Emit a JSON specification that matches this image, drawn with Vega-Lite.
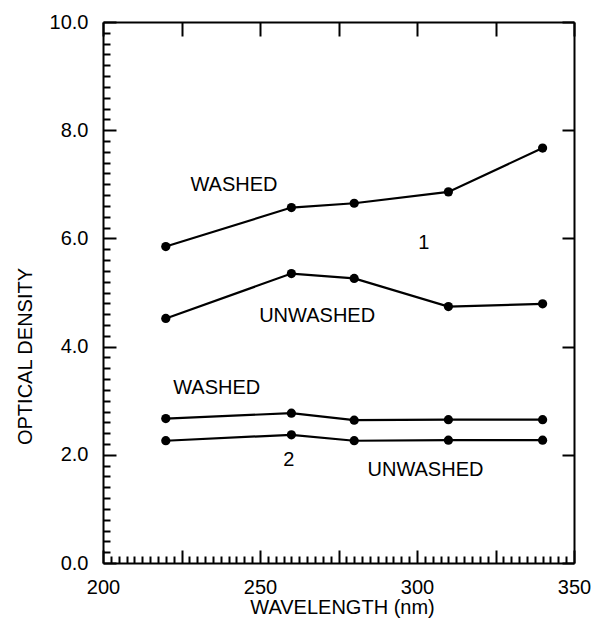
{
  "$schema": "https://vega.github.io/schema/vega-lite/v6.json",
  "autosize": "none",
  "width": 471,
  "height": 541,
  "padding": {"top": 22, "left": 103, "right": 20, "bottom": 63},
  "background": "white",
  "config": {
    "view": {"stroke": null},
    "font": "Liberation Sans",
    "axis": {
      "domainColor": "black", "domainWidth": 2, "tickColor": "black", "tickWidth": 2,
      "labelColor": "black", "labelFont": "Liberation Sans", "labelFontSize": 20,
      "titleColor": "black", "titleFont": "Liberation Sans", "titleFontSize": 20, "titleFontWeight": "normal",
      "grid": false, "labelOverlap": false, "labelFlush": false
    }
  },
  "datasets": {
    "curves": [
      {"series": "1 washed", "wavelength": 220, "od": 5.85},
      {"series": "1 washed", "wavelength": 260, "od": 6.57},
      {"series": "1 washed", "wavelength": 280, "od": 6.65},
      {"series": "1 washed", "wavelength": 310, "od": 6.86},
      {"series": "1 washed", "wavelength": 340, "od": 7.67},
      {"series": "1 unwashed", "wavelength": 220, "od": 4.52},
      {"series": "1 unwashed", "wavelength": 260, "od": 5.35},
      {"series": "1 unwashed", "wavelength": 280, "od": 5.26},
      {"series": "1 unwashed", "wavelength": 310, "od": 4.74},
      {"series": "1 unwashed", "wavelength": 340, "od": 4.79},
      {"series": "2 washed", "wavelength": 220, "od": 2.67},
      {"series": "2 washed", "wavelength": 260, "od": 2.77},
      {"series": "2 washed", "wavelength": 280, "od": 2.64},
      {"series": "2 washed", "wavelength": 310, "od": 2.65},
      {"series": "2 washed", "wavelength": 340, "od": 2.65},
      {"series": "2 unwashed", "wavelength": 220, "od": 2.26},
      {"series": "2 unwashed", "wavelength": 260, "od": 2.37},
      {"series": "2 unwashed", "wavelength": 280, "od": 2.26},
      {"series": "2 unwashed", "wavelength": 310, "od": 2.27},
      {"series": "2 unwashed", "wavelength": 340, "od": 2.27}
    ],
    "notes": [
      {"text": "WASHED", "wavelength": 241.7, "od": 6.99},
      {"text": "1", "wavelength": 302.2, "od": 5.91},
      {"text": "UNWASHED", "wavelength": 268.2, "od": 4.57},
      {"text": "WASHED", "wavelength": 236.2, "od": 3.23},
      {"text": "2", "wavelength": 259.2, "od": 1.9},
      {"text": "UNWASHED", "wavelength": 302.7, "od": 1.72}
    ]
  },
  "resolve": {"axis": {"x": "independent", "y": "independent"}},
  "layer": [
    {
      "data": {"name": "curves"},
      "encoding": {
        "x": {
          "field": "wavelength", "type": "quantitative",
          "scale": {"domain": [200, 350], "nice": false, "zero": false},
          "axis": {
            "orient": "bottom",
            "values": [200,202.5,205,207.5,210,212.5,215,217.5,220,222.5,225,227.5,230,232.5,235,237.5,240,242.5,245,247.5,250,252.5,255,257.5,260,262.5,265,267.5,270,272.5,275,277.5,280,282.5,285,287.5,290,292.5,295,297.5,300,302.5,305,307.5,310,312.5,315,317.5,320,322.5,325,327.5,330,332.5,335,337.5,340,342.5,345,347.5,350],
            "tickSize": {"condition": {"test": "datum.value % 25 === 0", "value": -13}, "value": -7},
            "labelExpr": "datum.value % 50 === 0 ? datum.label : ''",
            "labelPadding": 27,
            "title": "WAVELENGTH (nm)",
            "titleX": 239, "titleY": 44, "titleBaseline": "middle", "titleAlign": "center"
          }
        },
        "y": {
          "field": "od", "type": "quantitative",
          "scale": {"domain": [0, 10], "nice": false},
          "axis": {
            "orient": "left",
            "values": [0,0.2,0.4,0.6,0.8,1,1.2,1.4,1.6,1.8,2,2.2,2.4,2.6,2.8,3,3.2,3.4,3.6,3.8,4,4.2,4.4,4.6,4.8,5,5.2,5.4,5.6,5.8,6,6.2,6.4,6.6,6.8,7,7.2,7.4,7.6,7.8,8,8.2,8.4,8.6,8.8,9,9.2,9.4,9.6,9.8,10],
            "format": ".1f",
            "tickSize": {"condition": {"test": "datum.value % 2 === 0", "value": -13}, "value": -7},
            "labelExpr": "datum.value % 2 === 0 ? datum.label : ''",
            "labelPadding": 28,
            "title": "OPTICAL DENSITY",
            "titleX": -78, "titleY": 334, "titleBaseline": "middle", "titleAlign": "center", "titleAngle": -90
          }
        },
        "detail": {"field": "series"}
      },
      "layer": [
        {"mark": {"type": "line", "color": "black", "strokeWidth": 2.2}},
        {"mark": {"type": "point", "filled": true, "color": "black", "size": 85, "opacity": 1}}
      ]
    },
    {
      "data": {"name": "notes"},
      "mark": {"type": "text", "font": "Liberation Sans", "fontSize": 20, "color": "black", "align": "center", "baseline": "middle"},
      "encoding": {
        "x": {
          "field": "wavelength", "type": "quantitative",
          "scale": {"domain": [200, 350], "nice": false, "zero": false},
          "axis": {"orient": "top", "values": [200,225,250,275,300,325,350], "tickSize": -14, "labels": false, "title": null}
        },
        "y": {
          "field": "od", "type": "quantitative",
          "scale": {"domain": [0, 10], "nice": false},
          "axis": {"orient": "right", "values": [0,2,4,6,8,10], "tickSize": -12, "labels": false, "title": null}
        },
        "text": {"field": "text"}
      }
    }
  ]
}
